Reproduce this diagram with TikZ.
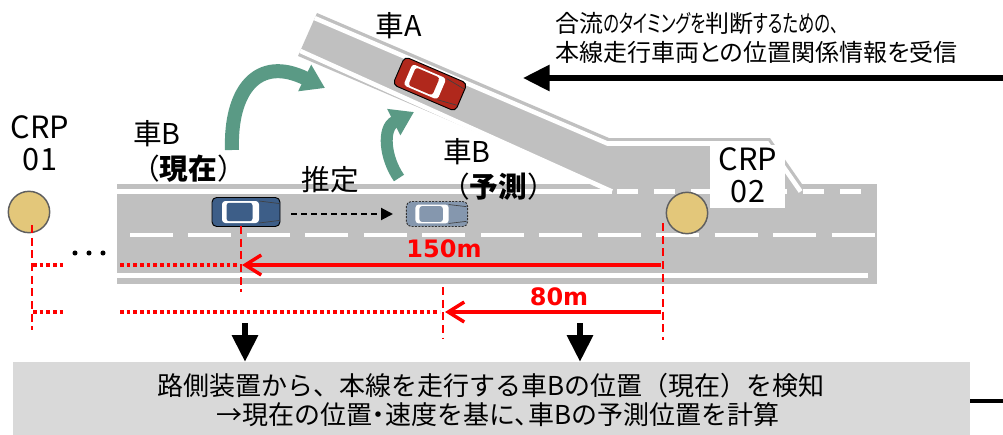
\documentclass[tikz,border=0pt]{standalone}
\usepackage{fontspec}
\setmainfont{Noto Sans CJK JP}
\newfontfamily\jpp{Noto Sans CJK JP}[RawFeature={+palt}]
\newfontfamily\jkana{Noto Sans CJK JP}[RawFeature={+palt}, FakeStretch=0.68]
\newfontfamily\dvs{DejaVu Sans}
\usetikzlibrary{arrows.meta}

\definecolor{roadgray}{HTML}{C0C0C0}
\definecolor{crpfill}{HTML}{E3C77A}
\definecolor{crpedge}{HTML}{5F5F5F}
\definecolor{turngreen}{HTML}{5A9A85}
\definecolor{carblue}{HTML}{3D5E88}
\definecolor{carghost}{HTML}{8597AE}
\definecolor{carred}{HTML}{B0281C}
\definecolor{boxgray}{HTML}{D9D9D9}

% top view of a car, centred on the origin, front towards +x
\newcommand{\carshape}[2]{%
  \filldraw[fill=#1, draw=black, line width=0.7pt, rounded corners=3.5pt, #2]
    (-34,-14.5) rectangle (34,14.5);
  \draw[black!75, line width=0.5pt] (13,-11) -- (33,-8.5) (13,11) -- (33,8.5);
  \fill[white, rounded corners=2.5pt] (-24,-11) rectangle (13,11);
  \fill[#1, rounded corners=2pt] (-19.5,-9.2) rectangle (6.5,9.2);
}

\begin{document}
\begin{tikzpicture}[x=0.75pt,y=-0.75pt,
  lbl/.style={inner sep=0pt, font=\fontsize{21.5}{24}\selectfont},
  crplbl/.style={inner sep=0pt, align=center, font=\fontsize{23}{24}\selectfont},
  dist/.style={inner sep=0pt, text=red, font=\dvs\bfseries\fontsize{18}{20}\selectfont},
  crp/.style={circle, fill=crpfill, draw=crpedge, line width=1.1pt, minimum size=31pt, inner sep=0pt},
  wline/.style={white, line width=3.4pt},
  reddash/.style={red, line width=1.4pt, dash pattern=on 6pt off 3.5pt},
  reddot/.style={red, line width=2.6pt, dash pattern=on 2.8pt off 2.2pt},
  redarrow/.style={red, line width=2.6pt, -{Straight Barb[length=12pt,width=15pt]}},
  greenarrow/.style={turngreen, line width=#1, -{Triangle[length=17pt,width=21pt]}},
  blackarrow/.style={line width=4pt, -{Triangle[length=20pt,width=19pt]}},
  estarrow/.style={line width=1.5pt, dash pattern=on 4.5pt off 3pt, -{Triangle[length=9pt,width=9pt]}}
]
\useasboundingbox (0,0) rectangle (1003,435);

% ---- roads ----
\fill[roadgray] (117,184) rectangle (877,284);
\fill[roadgray] (317,13) -- (609,138) -- (770,138) -- (802,184) -- (802,190)
  -- (612,190) -- (298,56) -- cycle;

% lane markings
\draw[wline] (314.8,18.1) -- (607.4,143.5) -- (767.2,143.5) -- (800.6,191.5);
\draw[wline] (300.2,50.9) -- (612,191.5);
\draw[wline] (117,191.5) -- (612,191.5);
\draw[wline, dash pattern=on 15.75pt off 12.15pt] (617,191.5) -- (877,191.5);
\draw[wline, dash pattern=on 32.25pt off 11.6pt] (130,235) -- (875,235);
\draw[wline] (117,275.5) -- (868,275.5);

% ---- reference points ----
\fill[white] (710,145) rectangle (785,208);
\node[crplbl] (crp1lbl) at (40,143) {CRP\\01};
\node[crplbl] (crp2lbl) at (748,175) {CRP\\02};
\node[crp] (crp1) at (29,212) {};
\node[crp] (crp2) at (687,213) {};

% ---- vehicles ----
\begin{scope}[shift={(246,212)}]
  \carshape{carblue}{}
\end{scope}
\begin{scope}[shift={(437,214)}, xscale=0.9, yscale=0.86]
  \carshape{carghost}{dash pattern=on 1.5pt off 1pt, draw=black!80}
\end{scope}
\begin{scope}[shift={(430,84)}, rotate=-23.2, yscale=1.05]
  \carshape{carred}{}
\end{scope}

% estimation arrow
\coordinate (estS) at (291,214);
\coordinate (estE) at (393,214);
\draw[estarrow] (estS) -- (estE);

% ---- merge-timing arrows ----
\coordinate (g1s) at (232,150);
\coordinate (g1e) at (325,88);
\draw[greenarrow=10.5pt] (g1s) .. controls (230,90) and (258,55) .. (g1e);
\coordinate (g2s) at (399,178);
\coordinate (g2e) at (414,112);
\draw[greenarrow=9pt] (g2s) .. controls (385,158) and (382,128) .. (g2e);

% ---- distances ----
\coordinate (v1t) at (32,225);   \coordinate (v1b) at (32,330);
\coordinate (v2t) at (241,226);  \coordinate (v2b) at (241,292);
\coordinate (v3t) at (443,287);  \coordinate (v3b) at (443,338);
\coordinate (v4t) at (663,223);  \coordinate (v4b) at (663,340);
\draw[reddash] (v1t) -- (v1b);
\draw[reddash] (v2t) -- (v2b);
\draw[reddash] (v3t) -- (v3b);
\draw[reddash] (v4t) -- (v4b);

\coordinate (h1a) at (33,265);  \coordinate (h1b) at (65,265);
\coordinate (h1c) at (120,265); \coordinate (h1d) at (239,265);
\coordinate (h2a) at (33,312);  \coordinate (h2b) at (65,312);
\coordinate (h2c) at (120,312); \coordinate (h2d) at (440,312);
\draw[reddot] (h1a) -- (h1b);
\draw[reddot] (h1c) -- (h1d);
\draw[reddot] (h2a) -- (h2b);
\draw[reddot] (h2c) -- (h2d);

\coordinate (r150s) at (661,265); \coordinate (r150e) at (242,265);
\coordinate (r80s) at (661,312);  \coordinate (r80e) at (445,312);
\draw[redarrow] (r150s) -- (r150e);
\draw[redarrow] (r80s) -- (r80e);
\node[dist] (d150) at (444,249) {150m};
\node[dist] (d80) at (559,297) {80m};

\fill (75,253) circle[radius=1.9pt];
\fill (89,253) circle[radius=1.9pt];
\fill (103,253) circle[radius=1.9pt];

% ---- labels ----
\node[lbl] (carA) at (399,26) {車A};
\node[lbl, anchor=west] (bNowT) at (133,134) {車B};
\node[lbl, anchor=west] (bNowS) at (131,169) {（\textbf{現在}）};
\node[lbl, anchor=west] (bPreT) at (443,152) {車B};
\node[lbl, anchor=west] (bPreS) at (441,187) {（\textbf{予測}）};
\node[lbl] (est) at (330,180) {推定};

% ---- information received ----
\node[inner sep=0pt, anchor=west, align=left, font=\jpp\fontsize{18}{21.75}\selectfont]
  (info) at (555,37.5) {合流{\jkana のタイミングを}判断{\jkana するための、}\\本線走行車両との位置関係情報を受信};
\coordinate (infoS) at (1003,78);
\coordinate (infoE) at (523,78);
\draw[line width=4pt, -{Triangle[length=20pt,width=19pt]}] (infoS) -- (infoE);

% ---- roadside computation ----
\node[fill=boxgray, inner sep=0pt, minimum width=717.75pt, minimum height=58.5pt] (box) at (491.5,401) {};
\node[inner sep=0pt, align=center, font=\fontsize{19.5}{21.75}\selectfont] (calc) at (491,400)
  {路側装置から、本線を走行する車Bの位置（現在）を検知\\
   \hspace*{10pt}→現在の位置{\jpp ・}速度を基に{\jpp 、}車Bの予測位置を計算};
\coordinate (a1s) at (245,323);
\coordinate (a2s) at (580,323);
\draw[blackarrow] (a1s) -- (a1s |- box.north);
\draw[blackarrow] (a2s) -- (a2s |- box.north);
\coordinate (barE) at (1003,401);
\draw[line width=3pt] (box.east) -- (barE);
\end{tikzpicture}
\end{document}
